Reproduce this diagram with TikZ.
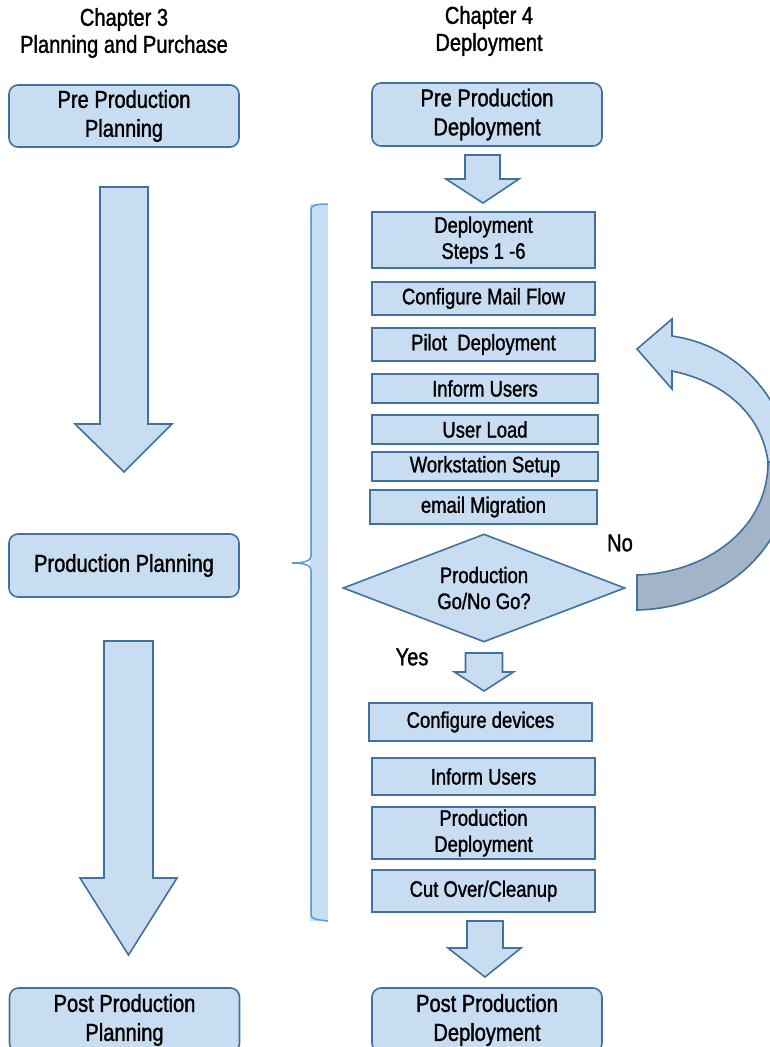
\documentclass[tikz,border=0pt]{standalone}
\usepackage{fontspec}
\setmainfont{Liberation Sans}[FakeStretch=0.82, FakeBold=1.3]
\usetikzlibrary{shapes.geometric}
\begin{document}
\begin{tikzpicture}[x=1pt, y=-1pt,
	roundbox/.style={draw=boxline, line width=1.6pt, fill=boxfill, rounded corners=9pt, minimum width=230pt, minimum height=62pt, inner sep=0pt, align=center, font=\fontsize{24.5}{29}\selectfont},
	stepbox/.style={draw=boxline, line width=2pt, fill=boxfill, minimum width=223pt, inner sep=0pt, align=center, font=\fontsize{22.5}{26}\selectfont},
	decision/.style={diamond, aspect=2.6, draw=boxline, line width=1.6pt, fill=boxfill, minimum width=282pt, minimum height=108pt, inner sep=0pt, align=center, font=\fontsize{22.5}{26}\selectfont},
	blockarrow/.style={draw=boxline, line width=1.6pt, fill=boxfill, line join=miter},
	headtext/.style={align=center, inner sep=0pt, font=\fontsize{24.5}{27}\selectfont}]
	% Define custom colors
	\definecolor{boxfill}{RGB}{200, 221, 242}
	\definecolor{boxline}{RGB}{65, 113, 156}
	\definecolor{bracefill}{RGB}{201, 222, 243}
	\definecolor{braceline}{RGB}{91, 155, 213}
	\definecolor{ribbonback}{RGB}{163, 180, 200}
	\useasboundingbox (0, 0) rectangle (770, 1047);
	\clip (0, 0) rectangle (770, 1047);
	% headings
	\node[headtext] (ch3) at (124, 33) {Chapter 3\\Planning and Purchase};
	\node[headtext] (ch4) at (489, 31) {Chapter 4\\Deployment};
	% left column
	\node[roundbox] (lpre) at (124, 116) {Pre Production\\Planning};
	\node[roundbox, minimum height=63pt] (lprod) at (124, 565.5) {Production Planning};
	\node[roundbox, minimum height=64pt] (lpost) at (124.5, 1020) {Post Production\\Planning};
	\draw[blockarrow] (100, 187) -- (148, 187) -- (148, 424) -- (172, 424) -- (124, 472) -- (75, 424) -- (100, 424) -- cycle;
	\draw[blockarrow] (104, 641) -- (153, 641) -- (153, 878) -- (177, 878) -- (128.5, 955) -- (80, 878) -- (104, 878) -- cycle;
	% brace
	\fill[bracefill] (310, 204) rectangle (328, 921);
	\draw[braceline, line width=1.5pt] (328, 204) .. controls (318, 204) and (311, 205) .. (311, 209) -- (311, 556) .. controls (311, 561) and (304, 563) .. (292, 563) .. controls (304, 563) and (311, 565) .. (311, 570) -- (311, 915) .. controls (311, 919) and (318, 920) .. (328, 921);
	% right column
	\node[roundbox, minimum height=63pt] (rpre) at (487, 114.5) {Pre Production\\Deployment};
	\draw[blockarrow] (465, 155) -- (500, 155) -- (500, 179) -- (519, 179) -- (483, 203) -- (446, 179) -- (465, 179) -- cycle;
	\node[stepbox, minimum height=56pt] (steps) at (483.5, 240) {Deployment\\Steps 1 -6};
	\node[stepbox, minimum height=33pt] (mail) at (483.5, 298.5) {Configure Mail Flow};
	\node[stepbox, minimum height=33pt] (pilot) at (483.5, 344.5) {Pilot\ \ Deployment};
	\node[stepbox, minimum width=226pt, minimum height=29pt] (inform1) at (485, 388.5) {Inform Users};
	\node[stepbox, minimum width=226pt, minimum height=29pt] (load) at (485, 429.5) {User Load};
	\node[stepbox, minimum width=226pt, minimum height=29pt] (wks) at (485, 466.5) {Workstation Setup};
	\node[stepbox, minimum width=227pt, minimum height=34pt] (mig) at (483.5, 507) {email Migration};
	\node[decision] (gonogo) at (484, 588) {Production\\Go/No Go?};
	\node[headtext] (no) at (620, 543) {No};
	\node[headtext] (yes) at (412, 657) {Yes};
	\draw[blockarrow] (465.5, 653) -- (502.5, 653) -- (502.5, 672) -- (513.5, 672) -- (484, 691) -- (454.5, 672) -- (465.5, 672) -- cycle;
	\node[stepbox, minimum height=38pt] (devices) at (480.5, 722) {Configure devices};
	\node[stepbox, minimum height=37pt] (inform2) at (483.5, 776.5) {Inform Users};
	\node[stepbox, minimum height=52pt] (proddep) at (483.5, 833) {Production\\Deployment};
	\node[stepbox, minimum height=42pt] (cutover) at (483.5, 891) {Cut Over/Cleanup};
	\draw[blockarrow] (467, 921) -- (503, 921) -- (503, 948) -- (521, 948) -- (485, 977) -- (448, 948) -- (467, 948) -- cycle;
	\node[roundbox, minimum height=64pt] (rpost) at (487, 1020) {Post Production\\Deployment};
	% loop back ribbon
	\draw[blockarrow] (637, 349) -- (672, 319) -- (672, 336) .. controls (735, 345) and (785, 395) .. (790, 462) -- (768, 462) .. controls (762, 415) and (725, 382) .. (672, 371) -- (672, 389) -- cycle;
	\draw[blockarrow, fill=ribbonback] (790, 462) .. controls (795, 545) and (725, 608) .. (637, 610) -- (637, 575) .. controls (705, 573) and (768, 530) .. (768, 462) -- cycle;
\end{tikzpicture}
\end{document}
